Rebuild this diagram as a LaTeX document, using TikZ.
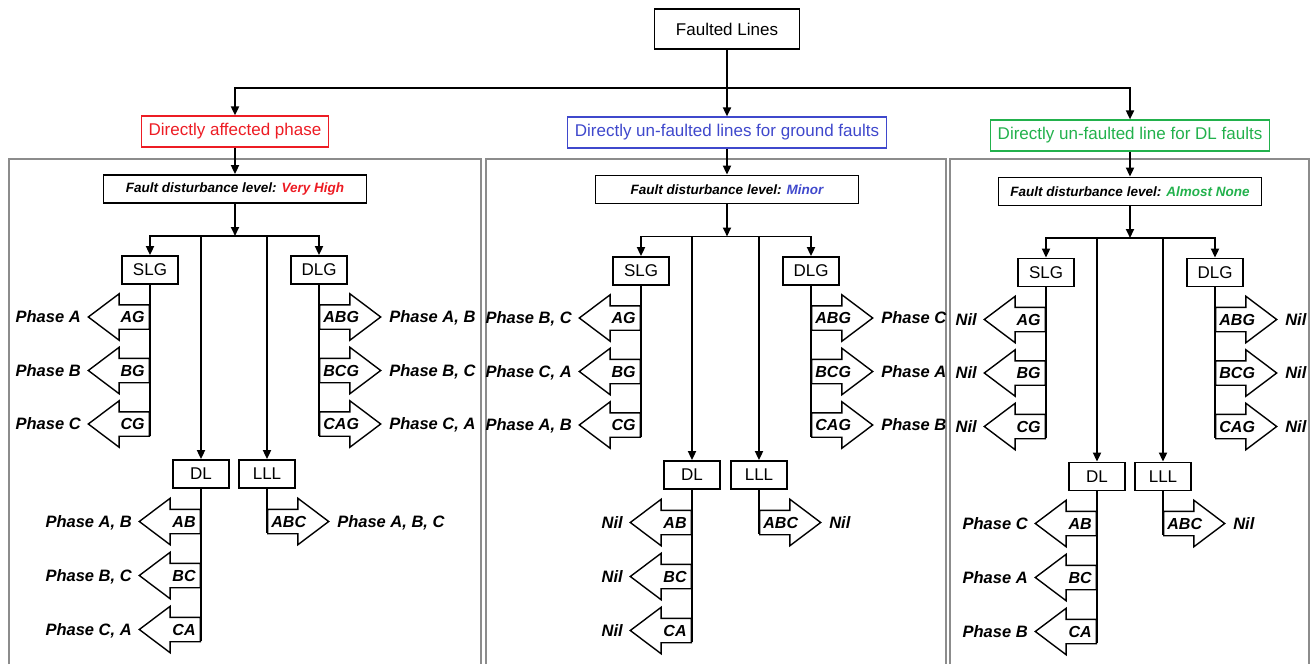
\documentclass[tikz,border=0pt]{standalone}
\usepackage{fontspec}
\setmainfont{Liberation Sans}
\usetikzlibrary{shapes.arrows, arrows.meta, positioning}
\definecolor{rojo}{HTML}{ED1C24}
\definecolor{azul}{HTML}{3F48CC}
\definecolor{verde}{HTML}{22B14C}
\definecolor{gris}{HTML}{8C8C8C}
\tikzset{
  caja/.style={rectangle, draw=black, line width=0.9pt, fill=white, font=\fontsize{8.5}{10}\selectfont,
               minimum width=28pt, minimum height=14pt, inner sep=0pt},
  cajacat/.style={rectangle, draw=#1, text=#1, line width=0.6pt, font=\fontsize{8.5}{10}\selectfont,
                  minimum height=15.5pt, inner xsep=3.6pt, inner ysep=0pt},
  nivel/.style={rectangle, draw=black, line width=0.9pt, font=\fontsize{6.75}{8}\selectfont\bfseries\itshape,
                minimum width=131.5pt, minimum height=14pt, inner sep=0pt},
  flechai/.style={single arrow, draw=black, fill=white, line width=0.7pt, shape border rotate=180,
                  minimum height=30.5pt, inner xsep=0pt, inner ysep=5.75pt,
                  single arrow head extend=5.5pt, single arrow tip angle=74, anchor=tail},
  flechad/.style={single arrow, draw=black, fill=white, line width=0.7pt,
                  minimum height=30.5pt, inner xsep=0pt, inner ysep=5.75pt,
                  single arrow head extend=5.5pt, single arrow tip angle=74, anchor=tail},
  etiq/.style={font=\fontsize{8}{9}\selectfont\bfseries\itshape, inner sep=0pt, text height=5.7pt, text depth=0pt},
  fase/.style={font=\fontsize{8.25}{9.5}\selectfont\bfseries\itshape, inner sep=0pt, text height=5.9pt, text depth=0pt},
  arrow/.style={line width=0.9pt, ->, >={Triangle[length=4.5pt, width=4pt]}},
  linea/.style={line width=0.9pt},
  panel/.style={draw=gris, line width=0.6pt}
}
\begin{document}
\begin{tikzpicture}[x=0.5pt, y=-0.5pt]
  \useasboundingbox (0,0) rectangle (1311,664);
  % raiz y categorias
  \node (raiz) [caja, minimum width=72.5pt, minimum height=20pt] at (727,29) {Faulted Lines};
  \coordinate (bus) at (727,88);
  \node (cat1) [cajacat=rojo] at (235,131.5) {Directly affected phase};
  \node (cat2) [cajacat=azul] at (727,132.5) {Directly un-faulted lines for ground faults};
  \node (cat3) [cajacat=verde] at (1130,135.5) {Directly un-faulted line for DL faults};
  \draw [linea] (raiz) -- (bus);
  \draw [arrow] (bus) -| (cat1); \draw [arrow] (bus) -- (cat2); \draw [arrow] (bus) -| (cat3);

  % paneles
  \draw [panel] (9,664) |- (481,159) -- (481,664);
  \draw [panel] (486,664) |- (946,159) -- (946,664);
  \draw [panel] (950,664) |- (1309,159) -- (1309,664);

  % panel 1
  \node (fd1) [nivel] at (235,189) {Fault disturbance level: \textcolor{rojo}{Very High}};
  \coordinate (r1) at (235,236);
  \node (slg1) [caja] at (150,270) {SLG};
  \node (dlg1) [caja] at (319,270) {DLG};
  \node (dl1) [caja] at (201,474) {DL};
  \node (lll1) [caja] at (267,474) {LLL};
  \draw [arrow] (cat1) -- (fd1); \draw [arrow] (fd1) -- (r1);
  \draw [arrow] (r1) -| (slg1); \draw [arrow] (r1) -| (dlg1);
  \draw [arrow] (r1) -| (dl1); \draw [arrow] (r1) -| (lll1);
  \node (ag1) [flechai] at (150,317) {}; \node (ag1t) [etiq, left=2.5pt of ag1.tail] {AG}; \node (ag1f) [fase, left=3pt of ag1.tip] {Phase A};
  \node (bg1) [flechai] at (150,370.5) {}; \node (bg1t) [etiq, left=2.5pt of bg1.tail] {BG}; \node (bg1f) [fase, left=3pt of bg1.tip] {Phase B};
  \node (cg1) [flechai] at (150,424) {}; \node (cg1t) [etiq, left=2.5pt of cg1.tail] {CG}; \node (cg1f) [fase, left=3pt of cg1.tip] {Phase C};
  \node (abg1) [flechad] at (319,317) {}; \node (abg1t) [etiq, right=2pt of abg1.tail] {ABG}; \node (abg1f) [fase, right=3.5pt of abg1.tip] {Phase A, B};
  \node (bcg1) [flechad] at (319,370.5) {}; \node (bcg1t) [etiq, right=2pt of bcg1.tail] {BCG}; \node (bcg1f) [fase, right=3.5pt of bcg1.tip] {Phase B, C};
  \node (cag1) [flechad] at (319,424) {}; \node (cag1t) [etiq, right=2pt of cag1.tail] {CAG}; \node (cag1f) [fase, right=3.5pt of cag1.tip] {Phase C, A};
  \node (ab1) [flechai] at (201,521.5) {}; \node (ab1t) [etiq, left=2.5pt of ab1.tail] {AB}; \node (ab1f) [fase, left=3pt of ab1.tip] {Phase A, B};
  \node (bc1) [flechai] at (201,575.5) {}; \node (bc1t) [etiq, left=2.5pt of bc1.tail] {BC}; \node (bc1f) [fase, left=3pt of bc1.tip] {Phase B, C};
  \node (ca1) [flechai] at (201,629.5) {}; \node (ca1t) [etiq, left=2.5pt of ca1.tail] {CA}; \node (ca1f) [fase, left=3pt of ca1.tip] {Phase C, A};
  \node (abc1) [flechad] at (267,521.5) {}; \node (abc1t) [etiq, right=2pt of abc1.tail] {ABC}; \node (abc1f) [fase, right=3.5pt of abc1.tip] {Phase A, B, C};
  \draw [linea] (slg1) -- (cg1.tail) -- ++(0,-5.75pt);
  \draw [linea] (dlg1) -- (cag1.tail) -- ++(0,-5.75pt);
  \draw [linea] (dl1) -- (ca1.tail) -- ++(0,-5.75pt);
  \draw [linea] (lll1) -- (abc1.tail) -- ++(0,-5.75pt);

  % panel 2
  \node (fd2) [nivel] at (727,189.5) {Fault disturbance level: \textcolor{azul}{Minor}};
  \coordinate (r2) at (727,236.5);
  \node (slg2) [caja] at (641,271) {SLG};
  \node (dlg2) [caja] at (811,271) {DLG};
  \node (dl2) [caja] at (692,475) {DL};
  \node (lll2) [caja] at (759,475) {LLL};
  \draw [arrow] (cat2) -- (fd2); \draw [arrow] (fd2) -- (r2);
  \draw [arrow] (r2) -| (slg2); \draw [arrow] (r2) -| (dlg2);
  \draw [arrow] (r2) -| (dl2); \draw [arrow] (r2) -| (lll2);
  \node (ag2) [flechai] at (641,318) {}; \node (ag2t) [etiq, left=2.5pt of ag2.tail] {AG}; \node (ag2f) [fase, left=3pt of ag2.tip] {Phase B, C};
  \node (bg2) [flechai] at (641,371.5) {}; \node (bg2t) [etiq, left=2.5pt of bg2.tail] {BG}; \node (bg2f) [fase, left=3pt of bg2.tip] {Phase C, A};
  \node (cg2) [flechai] at (641,425) {}; \node (cg2t) [etiq, left=2.5pt of cg2.tail] {CG}; \node (cg2f) [fase, left=3pt of cg2.tip] {Phase A, B};
  \node (abg2) [flechad] at (811,318) {}; \node (abg2t) [etiq, right=2pt of abg2.tail] {ABG}; \node (abg2f) [fase, right=3.5pt of abg2.tip] {Phase C};
  \node (bcg2) [flechad] at (811,371.5) {}; \node (bcg2t) [etiq, right=2pt of bcg2.tail] {BCG}; \node (bcg2f) [fase, right=3.5pt of bcg2.tip] {Phase A};
  \node (cag2) [flechad] at (811,425) {}; \node (cag2t) [etiq, right=2pt of cag2.tail] {CAG}; \node (cag2f) [fase, right=3.5pt of cag2.tip] {Phase B};
  \node (ab2) [flechai] at (692,522.5) {}; \node (ab2t) [etiq, left=2.5pt of ab2.tail] {AB}; \node (ab2f) [fase, left=3pt of ab2.tip] {Nil};
  \node (bc2) [flechai] at (692,576.5) {}; \node (bc2t) [etiq, left=2.5pt of bc2.tail] {BC}; \node (bc2f) [fase, left=3pt of bc2.tip] {Nil};
  \node (ca2) [flechai] at (692,630.5) {}; \node (ca2t) [etiq, left=2.5pt of ca2.tail] {CA}; \node (ca2f) [fase, left=3pt of ca2.tip] {Nil};
  \node (abc2) [flechad] at (759,522.5) {}; \node (abc2t) [etiq, right=2pt of abc2.tail] {ABC}; \node (abc2f) [fase, right=3.5pt of abc2.tip] {Nil};
  \draw [linea] (slg2) -- (cg2.tail) -- ++(0,-5.75pt);
  \draw [linea] (dlg2) -- (cag2.tail) -- ++(0,-5.75pt);
  \draw [linea] (dl2) -- (ca2.tail) -- ++(0,-5.75pt);
  \draw [linea] (lll2) -- (abc2.tail) -- ++(0,-5.75pt);

  % panel 3
  \node (fd3) [nivel] at (1130,191.5) {Fault disturbance level: \textcolor{verde}{Almost None}};
  \coordinate (r3) at (1130,238);
  \node (slg3) [caja] at (1046,272.5) {SLG};
  \node (dlg3) [caja] at (1215,272.5) {DLG};
  \node (dl3) [caja] at (1097,476.5) {DL};
  \node (lll3) [caja] at (1163,476.5) {LLL};
  \draw [arrow] (cat3) -- (fd3); \draw [arrow] (fd3) -- (r3);
  \draw [arrow] (r3) -| (slg3); \draw [arrow] (r3) -| (dlg3);
  \draw [arrow] (r3) -| (dl3); \draw [arrow] (r3) -| (lll3);
  \node (ag3) [flechai] at (1046,319.5) {}; \node (ag3t) [etiq, left=2.5pt of ag3.tail] {AG}; \node (ag3f) [fase, left=3pt of ag3.tip] {Nil};
  \node (bg3) [flechai] at (1046,373) {}; \node (bg3t) [etiq, left=2.5pt of bg3.tail] {BG}; \node (bg3f) [fase, left=3pt of bg3.tip] {Nil};
  \node (cg3) [flechai] at (1046,426.5) {}; \node (cg3t) [etiq, left=2.5pt of cg3.tail] {CG}; \node (cg3f) [fase, left=3pt of cg3.tip] {Nil};
  \node (abg3) [flechad] at (1215,319.5) {}; \node (abg3t) [etiq, right=2pt of abg3.tail] {ABG}; \node (abg3f) [fase, right=3.5pt of abg3.tip] {Nil};
  \node (bcg3) [flechad] at (1215,373) {}; \node (bcg3t) [etiq, right=2pt of bcg3.tail] {BCG}; \node (bcg3f) [fase, right=3.5pt of bcg3.tip] {Nil};
  \node (cag3) [flechad] at (1215,426.5) {}; \node (cag3t) [etiq, right=2pt of cag3.tail] {CAG}; \node (cag3f) [fase, right=3.5pt of cag3.tip] {Nil};
  \node (ab3) [flechai] at (1097,523.5) {}; \node (ab3t) [etiq, left=2.5pt of ab3.tail] {AB}; \node (ab3f) [fase, left=3pt of ab3.tip] {Phase C};
  \node (bc3) [flechai] at (1097,577.5) {}; \node (bc3t) [etiq, left=2.5pt of bc3.tail] {BC}; \node (bc3f) [fase, left=3pt of bc3.tip] {Phase A};
  \node (ca3) [flechai] at (1097,631.5) {}; \node (ca3t) [etiq, left=2.5pt of ca3.tail] {CA}; \node (ca3f) [fase, left=3pt of ca3.tip] {Phase B};
  \node (abc3) [flechad] at (1163,523.5) {}; \node (abc3t) [etiq, right=2pt of abc3.tail] {ABC}; \node (abc3f) [fase, right=3.5pt of abc3.tip] {Nil};
  \draw [linea] (slg3) -- (cg3.tail) -- ++(0,-5.75pt);
  \draw [linea] (dlg3) -- (cag3.tail) -- ++(0,-5.75pt);
  \draw [linea] (dl3) -- (ca3.tail) -- ++(0,-5.75pt);
  \draw [linea] (lll3) -- (abc3.tail) -- ++(0,-5.75pt);
\end{tikzpicture}
\end{document}
